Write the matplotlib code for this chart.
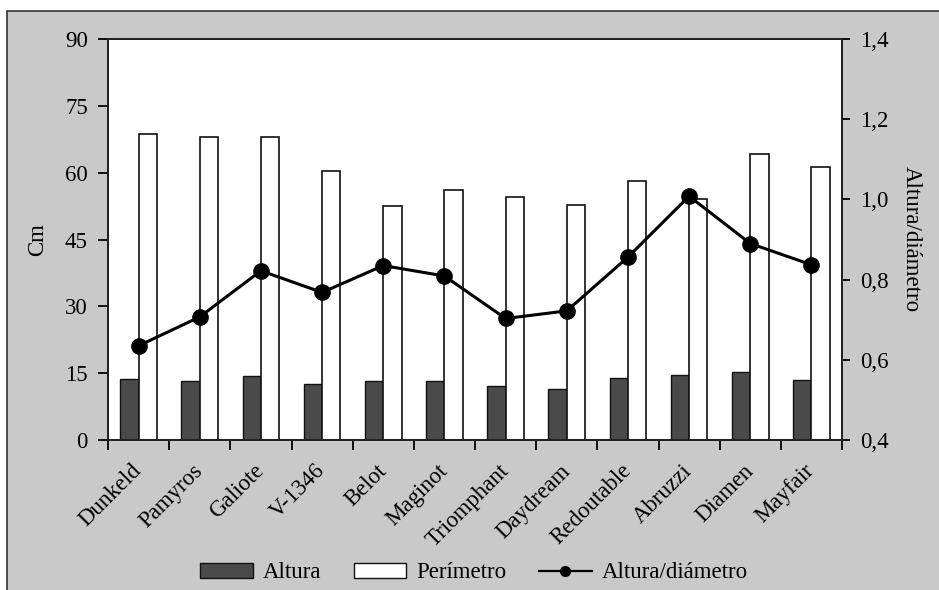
import matplotlib
matplotlib.use("Agg")
import matplotlib.pyplot as plt
from matplotlib.patches import Rectangle, Patch
from matplotlib.lines import Line2D
import numpy as np

categories = ["Dunkeld", "Pamyros", "Galiote", "V-1346", "Belot", "Maginot",
              "Triomphant", "Daydream", "Redoutable", "Abruzzi", "Diamen", "Mayfair"]
altura = [13.8, 13.2, 14.4, 12.6, 13.2, 13.2, 12.1, 11.5, 14.0, 14.7, 15.3, 13.5]
perimetro = [68.7, 68.1, 68.1, 60.3, 52.6, 56.2, 54.5, 52.7, 58.1, 54.0, 64.2, 61.3]
ratio = [0.635, 0.707, 0.822, 0.768, 0.835, 0.809, 0.703, 0.722, 0.856, 1.008, 0.890, 0.837]
left_ticks = [0, 15, 30, 45, 60, 75, 90]
right_ticks = [0.4, 0.6, 0.8, 1.0, 1.2, 1.4]

plt.rcParams['font.family'] = ['Liberation Serif', 'DejaVu Serif']
FS = 16.5

W, H = 939, 590
fig = plt.figure(figsize=(W / 100, H / 100), dpi=100, facecolor='white')
bg = Rectangle((7 / W, -0.01), 1.0, (H - 11) / H + 0.01,
               transform=fig.transFigure, facecolor='#c9c9c9',
               edgecolor='#333333', linewidth=1.2, zorder=-10)
fig.add_artist(bg)

ax = fig.add_axes([108 / W, 150 / H, (842 - 108) / W, (440 - 39) / H])
ax.set_zorder(1)
ax.set_facecolor('white')
x = np.arange(len(categories))
w = 0.3
ax.bar(x - w / 2, altura, width=w, color='#4a4a4a', edgecolor='#111111', linewidth=1.0, zorder=2)
ax.bar(x + w / 2, perimetro, width=w, color='white', edgecolor='#111111', linewidth=1.2, zorder=2)

ax.set_xlim(-0.5, len(categories) - 0.5)
ax.set_ylim(0, 90)
ax.set_yticks(left_ticks)
ax.set_yticklabels([str(t) for t in left_ticks], fontsize=FS)
ax.set_ylabel("Cm", fontsize=FS, labelpad=12)

ax.set_xticks(np.arange(-0.5, len(categories), 1.0))
ax.set_xticklabels([])
ax.set_xticks(x, minor=True)
ax.set_xticklabels(categories, minor=True, rotation=45, ha='right', va='center',
                   rotation_mode='anchor', fontsize=FS)
ax.tick_params(axis='x', which='minor', length=0, pad=20)
ax.tick_params(axis='x', which='major', length=7, width=1.3, direction='out')
ax.tick_params(axis='y', length=7.5, width=1.3, direction='out', pad=7)
for s in ax.spines.values():
    s.set_linewidth(1.4)
    s.set_color('#222222')

ax2 = ax.twinx()
ax2.set_zorder(2)
ax2.patch.set_visible(False)
ax2.plot(x, ratio, color='black', linewidth=2.2, marker='o', markersize=11, zorder=5)
ax2.set_ylim(0.4, 1.4)
ax2.set_yticks(right_ticks)
ax2.set_yticklabels([f"{t:.1f}".replace('.', ',') for t in right_ticks], fontsize=FS)
ax2.tick_params(axis='y', length=6, width=1.3, direction='out', pad=7)
ax2.set_ylabel("Altura/diámetro", fontsize=FS, rotation=-90, labelpad=24)
for s in ax2.spines.values():
    s.set_linewidth(1.4)
    s.set_color('#222222')

handles = [Patch(facecolor='#4a4a4a', edgecolor='#111111', label='Altura'),
           Patch(facecolor='white', edgecolor='#111111', label='Perímetro'),
           Line2D([0], [0], color='black', linewidth=1.6, marker='o', markersize=7,
                  label='Altura/diámetro')]
fig.legend(handles=handles, loc='center', bbox_to_anchor=(474 / W, 17 / H), ncol=3,
           frameon=False, fontsize=FS, handlelength=2.3, handleheight=0.6,
           columnspacing=1.4, handletextpad=0.45)

fig.savefig("out.png", dpi=100, facecolor=fig.get_facecolor())
